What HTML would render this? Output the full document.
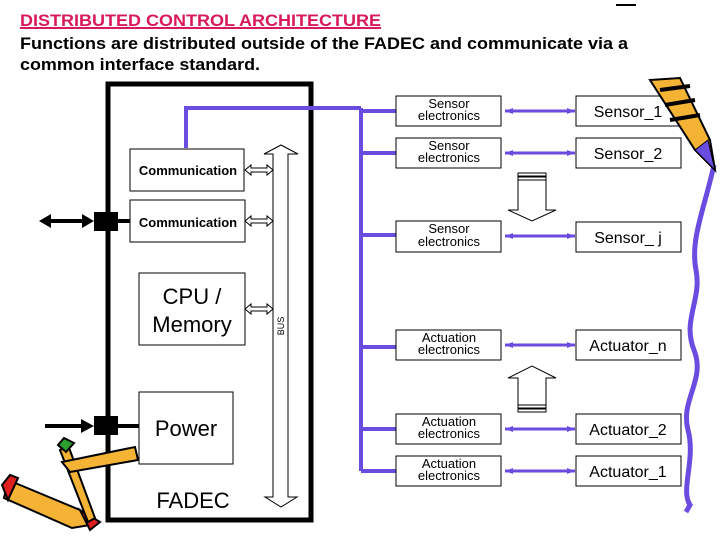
<!DOCTYPE html>
<html><head><style>
html,body{margin:0;padding:0;background:#fff;}
svg text{font-family:"Liberation Sans",Arial,sans-serif;}
</style></head><body>
<svg width="720" height="540" viewBox="0 0 720 540" xmlns="http://www.w3.org/2000/svg">
<!-- header -->
<text x="20" y="26" font-size="17" font-weight="bold" fill="#d8195a" textLength="361" lengthAdjust="spacingAndGlyphs">DISTRIBUTED CONTROL ARCHITECTURE</text>
<rect x="20" y="27" width="361" height="2" fill="#d8195a"/>
<text x="20" y="49" font-size="17" font-weight="bold" fill="#000" textLength="608" lengthAdjust="spacingAndGlyphs">Functions are distributed outside of the FADEC and communicate via a</text>
<text x="20" y="70" font-size="17" font-weight="bold" fill="#000" textLength="240" lengthAdjust="spacingAndGlyphs">common interface standard.</text>
<rect x="616" y="4" width="20" height="2" fill="#000"/>

<!-- FADEC -->
<rect x="108" y="84" width="203" height="436" fill="none" stroke="#000" stroke-width="5"/>
<!-- purple network -->
<g stroke="#6a4de0" stroke-width="4" fill="none">
<polyline points="186,148 186,108 361,108"/>
<line x1="361" y1="108" x2="361" y2="471"/>
<line x1="361" y1="111" x2="396" y2="111"/>
<line x1="361" y1="153" x2="396" y2="153"/>
<line x1="361" y1="235" x2="396" y2="235"/>
<line x1="361" y1="347" x2="396" y2="347"/>
<line x1="361" y1="429" x2="396" y2="429"/>
<line x1="361" y1="471" x2="396" y2="471"/>
</g>
<g stroke="#6a4de0" stroke-width="3">
<line x1="505" y1="111" x2="575" y2="111"/>
<line x1="505" y1="153" x2="575" y2="153"/>
<line x1="505" y1="236" x2="575" y2="236"/>
<line x1="505" y1="345" x2="575" y2="345"/>
<line x1="505" y1="429" x2="575" y2="429"/>
<line x1="505" y1="471" x2="575" y2="471"/>
</g>
<g fill="#6a4de0">
<path d="M505,111 l8,-3 v6z M575,111 l-8,-3 v6z"/>
<path d="M505,153 l8,-3 v6z M575,153 l-8,-3 v6z"/>
<path d="M505,236 l8,-3 v6z M575,236 l-8,-3 v6z"/>
<path d="M505,345 l8,-3 v6z M575,345 l-8,-3 v6z"/>
<path d="M505,429 l8,-3 v6z M575,429 l-8,-3 v6z"/>
<path d="M505,471 l8,-3 v6z M575,471 l-8,-3 v6z"/>
</g>

<!-- inner boxes -->
<g fill="#fff" stroke="#000" stroke-width="1">
<rect x="130" y="149" width="114" height="42"/>
<rect x="130" y="200" width="115" height="42"/>
<rect x="139" y="273" width="106" height="72"/>
<rect x="139" y="392" width="94" height="72"/>
</g>
<text x="188" y="175" font-size="13" font-weight="bold" text-anchor="middle">Communication</text>
<text x="188" y="227" font-size="13" font-weight="bold" text-anchor="middle">Communication</text>
<text x="192" y="304" font-size="22" text-anchor="middle">CPU /</text>
<text x="192" y="332" font-size="22" text-anchor="middle">Memory</text>
<text x="186" y="436" font-size="22" text-anchor="middle">Power</text>
<text x="193" y="508" font-size="22" text-anchor="middle">FADEC</text>

<!-- small double arrows -->
<g fill="#fff" stroke="#000" stroke-width="1">
<path d="M245,170 l6,-5 v3 h16 v-3 l6,5 l-6,5 v-3 h-16 v3z"/>
<path d="M245,221 l6,-5 v3 h16 v-3 l6,5 l-6,5 v-3 h-16 v3z"/>
<path d="M245,309 l6,-5 v3 h16 v-3 l6,5 l-6,5 v-3 h-16 v3z"/>
<path d="M264,154 L281,145 L298,154 L288,154 L288,497 L297,497 L281,507 L265,497 L273,497 L273,154z"/>
</g>
<text transform="translate(284,326) rotate(-90)" font-size="9" text-anchor="middle">BUS</text>

<!-- black external connectors -->
<rect x="94" y="212" width="24" height="19" fill="#000"/>
<line x1="118" y1="221" x2="130" y2="221" stroke="#000" stroke-width="4"/>
<line x1="48" y1="221" x2="86" y2="221" stroke="#000" stroke-width="4"/>
<path d="M39,221 l12,-7 v14z M94,221 l-12,-7 v14z" fill="#000"/>
<rect x="94" y="416" width="24" height="19" fill="#000"/>
<line x1="118" y1="426" x2="139" y2="426" stroke="#000" stroke-width="4"/>
<line x1="45" y1="426" x2="84" y2="426" stroke="#000" stroke-width="4"/>
<path d="M94,426 l-13,-7 v14z" fill="#000"/>

<!-- right boxes -->
<g fill="#fff" stroke="#000" stroke-width="1">
<rect x="396" y="96" width="105" height="30"/>
<rect x="396" y="138" width="105" height="30"/>
<rect x="396" y="221" width="105" height="31"/>
<rect x="396" y="330" width="105" height="30"/>
<rect x="396" y="414" width="105" height="30"/>
<rect x="396" y="456" width="105" height="30"/>
<rect x="576" y="96" width="105" height="30"/>
<rect x="576" y="138" width="105" height="30"/>
<rect x="576" y="222" width="105" height="30"/>
<rect x="576" y="330" width="105" height="30"/>
<rect x="576" y="414" width="105" height="30"/>
<rect x="576" y="456" width="105" height="30"/>
</g>
<g font-size="13" text-anchor="middle">
<text x="449" y="108">Sensor</text><text x="449" y="120">electronics</text>
<text x="449" y="150">Sensor</text><text x="449" y="162">electronics</text>
<text x="449" y="233">Sensor</text><text x="449" y="246">electronics</text>
<text x="449" y="342">Actuation</text><text x="449" y="354">electronics</text>
<text x="449" y="426">Actuation</text><text x="449" y="438">electronics</text>
<text x="449" y="468">Actuation</text><text x="449" y="480">electronics</text>
</g>
<g font-size="16" text-anchor="middle">
<text x="628" y="117">Sensor_1</text>
<text x="628" y="159">Sensor_2</text>
<text x="628" y="243">Sensor_ j</text>
<text x="628" y="351">Actuator_n</text>
<text x="628" y="435">Actuator_2</text>
<text x="628" y="477">Actuator_1</text>
</g>

<!-- big hollow arrows -->
<g fill="#fff" stroke="#000" stroke-width="1">
<rect x="518" y="173" width="28" height="3"/><rect x="518" y="177" width="28" height="3"/>
<path d="M518,180 h28 v30 h10 l-24,11 l-24,-11 h10z"/>
<rect x="518" y="409" width="28" height="3"/><rect x="518" y="405" width="28" height="3"/>
<path d="M518,405 h28 v-27 h10 l-24,-12 l-24,12 h10z"/>
</g>

<!-- wavy purple line -->
<path d="M714,165 C704,210 690,240 696,270 C702,300 682,320 694,350 C706,380 680,400 688,430 C696,460 680,490 690,505 L686,512" stroke="#6a4de0" stroke-width="5" fill="none"/>
<!-- top right pencil -->
<g>
<path d="M650,80 L680,78 L710,140 L715,170 L695,150 Z" fill="#f5b335" stroke="#000" stroke-width="2"/>
<path d="M660,90 L690,86 M665,105 L695,100 M670,120 L700,115" stroke="#000" stroke-width="4"/>
<path d="M695,150 L715,170 L708,140z" fill="#6a4de0" stroke="#000"/>
</g>
<!-- bottom left pencils -->
<g stroke="#000" stroke-width="2">
<path d="M8,480 L80,510 L90,525 L72,528 L4,498 Z" fill="#f5b335"/>
<path d="M2,485 L10,475 L18,478 L8,500z" fill="#e02020"/>
<path d="M80,510 L100,522 L90,530z" fill="#e02020"/>
<path d="M60,450 L68,445 L95,518 L88,522z" fill="#f5b335"/>
<path d="M58,445 L64,438 L74,443 L66,452z" fill="#2ca02c"/>
<path d="M62,462 L135,447 L138,460 L70,472z" fill="#f5b335"/>
</g>
</svg>
</body></html>
